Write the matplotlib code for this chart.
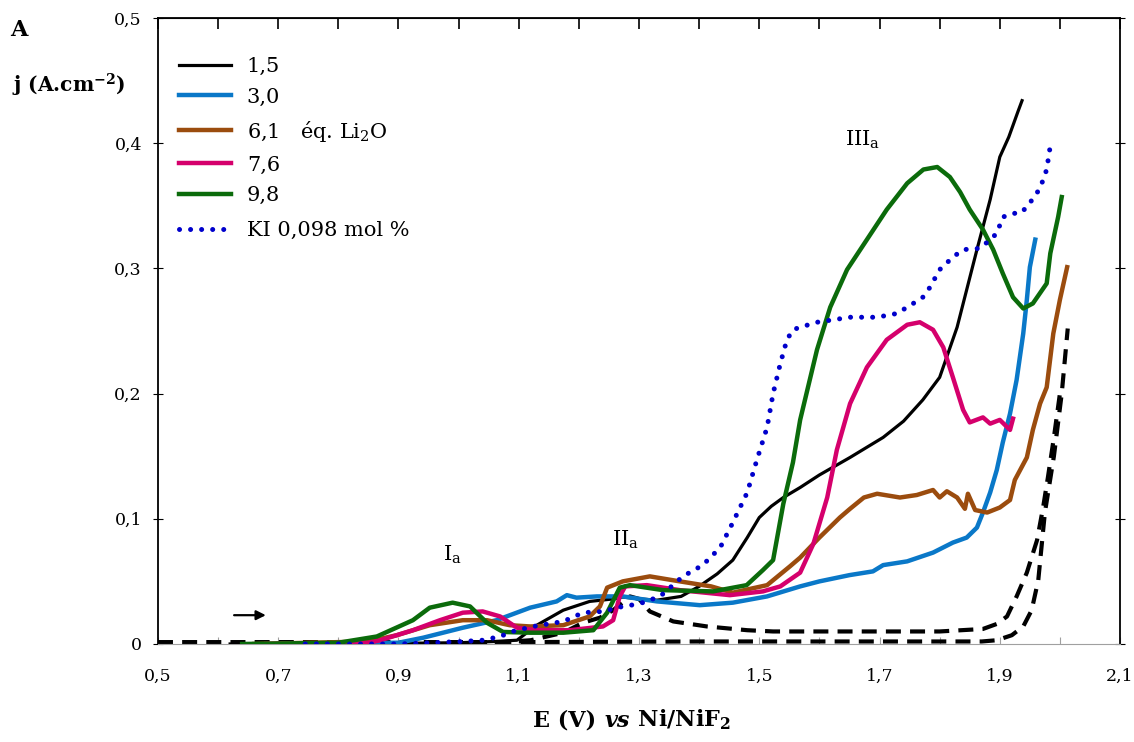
import numpy as np
import matplotlib
matplotlib.use("Agg")
import matplotlib.pyplot as plt
from matplotlib.offsetbox import TextArea, HPacker, AnchoredOffsetbox

plt.rcParams['font.family'] = ['DejaVu Serif']
plt.rcParams['mathtext.fontset'] = 'dejavuserif'

# ---- data (E in V, j in A/cm2) ----
black_x = [0.62, 0.8, 1.0, 1.06, 1.097, 1.13, 1.174, 1.218, 1.257, 1.273, 1.30, 1.33, 1.37, 1.40, 1.43,
           1.456, 1.48, 1.50, 1.52, 1.54, 1.568, 1.60, 1.651, 1.706, 1.74, 1.772, 1.80, 1.829, 1.862,
           1.884, 1.90, 1.915, 1.93, 1.937]
black_y = [0.0, 0.0, 0.001, 0.002, 0.003, 0.015, 0.027, 0.034, 0.036, 0.0375, 0.036, 0.035, 0.038, 0.046,
           0.056, 0.067, 0.085, 0.101, 0.110, 0.117, 0.125, 0.135, 0.149, 0.165, 0.178, 0.195, 0.213,
           0.253, 0.315, 0.355, 0.389, 0.405, 0.425, 0.434]

blue_x = [0.70, 0.90, 0.941, 1.007, 1.063, 1.119, 1.163, 1.18, 1.196, 1.23, 1.273, 1.33, 1.401, 1.456,
          1.513, 1.568, 1.60, 1.65, 1.689, 1.706, 1.746, 1.789, 1.822, 1.845, 1.862, 1.872, 1.884, 1.895,
          1.905, 1.917, 1.928, 1.939, 1.945, 1.95, 1.959]
blue_y = [0.0, 0.001, 0.005, 0.013, 0.019, 0.029, 0.034, 0.039, 0.037, 0.038, 0.038, 0.034, 0.031, 0.033,
          0.038, 0.046, 0.050, 0.055, 0.058, 0.063, 0.066, 0.073, 0.081, 0.085, 0.093, 0.105, 0.121, 0.139,
          0.161, 0.184, 0.211, 0.248, 0.275, 0.301, 0.323]

brown_x = [0.66, 0.85, 0.897, 0.952, 1.007, 1.047, 1.085, 1.119, 1.174, 1.218, 1.235, 1.247, 1.273, 1.318,
           1.368, 1.42, 1.456, 1.513, 1.551, 1.568, 1.60, 1.634, 1.651, 1.674, 1.696, 1.734, 1.762, 1.789,
           1.80, 1.812, 1.829, 1.842, 1.847, 1.859, 1.879, 1.90, 1.917, 1.925, 1.945, 1.955, 1.967, 1.978,
           1.989, 2.0, 2.012]
brown_y = [0.0, 0.002, 0.007, 0.015, 0.019, 0.019, 0.015, 0.014, 0.015, 0.022, 0.030, 0.045, 0.050, 0.054,
           0.050, 0.046, 0.041, 0.047, 0.062, 0.069, 0.085, 0.101, 0.108, 0.117, 0.120, 0.117, 0.119, 0.123,
           0.117, 0.122, 0.117, 0.108, 0.120, 0.107, 0.105, 0.109, 0.115, 0.131, 0.149, 0.171, 0.192, 0.205,
           0.248, 0.275, 0.301]

pink_x = [0.68, 0.85, 0.87, 0.924, 0.969, 1.007, 1.04, 1.069, 1.097, 1.13, 1.185, 1.24, 1.257, 1.268, 1.277,
          1.313, 1.368, 1.451, 1.506, 1.535, 1.568, 1.59, 1.613, 1.629, 1.651, 1.679, 1.712, 1.746, 1.767,
          1.789, 1.806, 1.822, 1.839, 1.85, 1.872, 1.884, 1.90, 1.917, 1.922]
pink_y = [0.0, 0.001, 0.003, 0.011, 0.019, 0.025, 0.026, 0.022, 0.013, 0.011, 0.011, 0.014, 0.019, 0.038,
          0.046, 0.047, 0.043, 0.039, 0.042, 0.046, 0.057, 0.080, 0.117, 0.155, 0.192, 0.221, 0.243, 0.255,
          0.257, 0.251, 0.237, 0.213, 0.187, 0.177, 0.181, 0.176, 0.179, 0.171, 0.180]

green_x = [0.64, 0.80, 0.864, 0.924, 0.952, 0.99, 1.019, 1.047, 1.074, 1.119, 1.174, 1.224, 1.247, 1.268,
           1.285, 1.34, 1.423, 1.479, 1.506, 1.523, 1.54, 1.556, 1.568, 1.596, 1.618, 1.646, 1.679, 1.712,
           1.746, 1.773, 1.796, 1.817, 1.834, 1.85, 1.872, 1.889, 1.905, 1.922, 1.939, 1.955, 1.978, 1.984,
           1.997, 2.003]
green_y = [0.0, 0.001, 0.006, 0.019, 0.029, 0.033, 0.030, 0.017, 0.0096, 0.009, 0.009, 0.011, 0.025, 0.045,
           0.047, 0.043, 0.042, 0.047, 0.059, 0.067, 0.112, 0.145, 0.179, 0.235, 0.269, 0.299, 0.323, 0.347,
           0.368, 0.379, 0.381, 0.373, 0.361, 0.347, 0.331, 0.315, 0.296, 0.277, 0.268, 0.272, 0.288, 0.312,
           0.341, 0.357]

ki_x = [0.745, 0.9, 1.007, 1.04, 1.069, 1.09, 1.124, 1.174, 1.207, 1.24, 1.273, 1.30, 1.335, 1.373, 1.406,
        1.435, 1.456, 1.48, 1.496, 1.513, 1.523, 1.535, 1.546, 1.556, 1.568, 1.596, 1.651, 1.696, 1.729,
        1.756, 1.772, 1.784, 1.80, 1.822, 1.839, 1.867, 1.884, 1.895, 1.905, 1.922, 1.934, 1.945, 1.954,
        1.967, 1.978, 1.984]
ki_y = [0.0, 0.0, 0.002, 0.003, 0.006, 0.010, 0.014, 0.018, 0.025, 0.026, 0.030, 0.032, 0.038, 0.054, 0.063,
        0.077, 0.097, 0.121, 0.147, 0.173, 0.200, 0.224, 0.243, 0.251, 0.253, 0.257, 0.261, 0.261, 0.264,
        0.272, 0.277, 0.285, 0.299, 0.309, 0.315, 0.316, 0.323, 0.328, 0.341, 0.344, 0.344, 0.349, 0.355,
        0.364, 0.379, 0.398]

# black dashed traces (return scans)
dash1_x = [1.06, 1.12, 1.174, 1.207, 1.235, 1.257, 1.285, 1.30, 1.318, 1.357, 1.413, 1.48, 1.523, 1.651,
           1.80, 1.872, 1.895, 1.912, 1.928, 1.945, 1.962, 1.972, 1.98, 1.99, 2.0]
dash1_y = [0.001, 0.003, 0.009, 0.017, 0.021, 0.027, 0.038, 0.036, 0.026, 0.018, 0.014, 0.011, 0.010, 0.010,
           0.010, 0.012, 0.016, 0.022, 0.038, 0.057, 0.083, 0.109, 0.133, 0.165, 0.20]
dash2_x = [0.5, 0.8, 1.1, 1.4, 1.7, 1.87, 1.895, 1.92, 1.939, 1.953, 1.964, 1.975, 1.99, 2.003, 2.013]
dash2_y = [0.0015, 0.0015, 0.0015, 0.002, 0.002, 0.002, 0.003, 0.007, 0.014, 0.027, 0.051, 0.105, 0.15,
           0.20, 0.252]

x_ticks = [0.5, 0.7, 0.9, 1.1, 1.3, 1.5, 1.7, 1.9, 2.1]
x_ticklabels = ['0,5', '0,7', '0,9', '1,1', '1,3', '1,5', '1,7', '1,9', '2,1']
y_ticks = [0, 0.1, 0.2, 0.3, 0.4, 0.5]
y_ticklabels = ['0', '0,1', '0,2', '0,3', '0,4', '0,5']

fig = plt.figure(figsize=(11.34, 7.42), dpi=100)
ax = fig.add_axes([0.1393, 0.1321, 0.8484, 0.8436])

dash = (0, (3.6, 2.2))
ax.plot(dash2_x, dash2_y, color='black', lw=3, ls=dash, zorder=2)
ax.plot(dash1_x, dash1_y, color='black', lw=3, ls=dash, zorder=2)
l1, = ax.plot(black_x, black_y, color='black', lw=2.3, label='1,5', zorder=3)
l2, = ax.plot(blue_x, blue_y, color='#0a78c8', lw=3.2, label='3,0', zorder=3)
l3, = ax.plot(brown_x, brown_y, color='#9b4c0e', lw=3.2, label='6,1   éq. Li$_2$O', zorder=3)
l4, = ax.plot(pink_x, pink_y, color='#d5006c', lw=3.2, label='7,6', zorder=3)
l5, = ax.plot(green_x, green_y, color='#0b6b0b', lw=3.2, label='9,8', zorder=3)
l6, = ax.plot(ki_x, ki_y, color='#0000cc', lw=3.6, ls=(0, (0.01, 2.2)), dash_capstyle='round',
              label='KI 0,098 mol %', zorder=4)

ax.set_xlim(0.5, 2.1)
ax.set_ylim(0, 0.5)

ax.set_xticks(np.round(np.arange(0.5, 2.101, 0.1), 2))
ax.set_xticklabels([x_ticklabels[i // 2] if i % 2 == 0 else '' for i in range(17)])
ax.set_yticks(y_ticks)
ax.set_yticklabels(y_ticklabels)
ax.tick_params(axis='x', direction='in', length=5, color='#a0a0a0', labelsize=12.5, pad=17)
ax.tick_params(axis='y', direction='inout', length=7, color='black', labelsize=12.5, pad=8,
               right=True)
ax.spines['bottom'].set_color('#a0a0a0')
for s in ['top', 'left', 'right']:
    ax.spines[s].set_linewidth(1.3)

top = ax.secondary_xaxis('top')
top.set_xticks(np.round(np.arange(0.5, 2.101, 0.1), 2))
top.tick_params(direction='in', length=8, width=1.2, labeltop=False)

leg1 = ax.legend(handles=[l1, l2, l3, l4, l5], loc='upper left', bbox_to_anchor=(0.022, 0.938),
                 frameon=False, fontsize=15, handlelength=2.5, handletextpad=0.75, labelspacing=0.57,
                 borderpad=0, borderaxespad=0)
ax.add_artist(leg1)
ax.legend(handles=[l6], loc='upper left', bbox_to_anchor=(0.022, 0.676), frameon=False, fontsize=15,
          handlelength=2.5, handletextpad=0.75, borderpad=0, borderaxespad=0)

# peak labels and scan direction arrow
ax.text(0.974, 0.071, 'I$_\\mathrm{a}$', fontsize=15, ha='left', va='center')
ax.text(1.255, 0.083, 'II$_\\mathrm{a}$', fontsize=15, ha='left', va='center')
ax.text(1.643, 0.403, 'III$_\\mathrm{a}$', fontsize=15, ha='left', va='center')
ax.annotate('', xy=(0.684, 0.023), xytext=(0.622, 0.023),
            arrowprops=dict(arrowstyle='-|>', color='black', lw=1.6, mutation_scale=14))

fig.text(10 / 1134, 1 - 30 / 742, 'A', fontsize=16, fontweight='bold', va='center')
fig.text(12 / 1134, 1 - 85 / 742, 'j (A.cm$^{\\mathbf{-2}}$)', fontsize=14.5, fontweight='bold',
         va='center')

parts = [TextArea('E (V) ', textprops=dict(fontsize=16, fontweight='bold')),
         TextArea('vs', textprops=dict(fontsize=16, fontweight='bold', style='italic')),
         TextArea(' Ni/NiF$_\\mathbf{2}$', textprops=dict(fontsize=16, fontweight='bold'))]
box = HPacker(children=parts, align='baseline', pad=0, sep=0)
anch = AnchoredOffsetbox(loc='center', child=box, frameon=False, pad=0, borderpad=0,
                         bbox_to_anchor=(632 / 1134, 1 - 720 / 742), bbox_transform=fig.transFigure)
fig.add_artist(anch)

fig.savefig('out.png', dpi=100)
